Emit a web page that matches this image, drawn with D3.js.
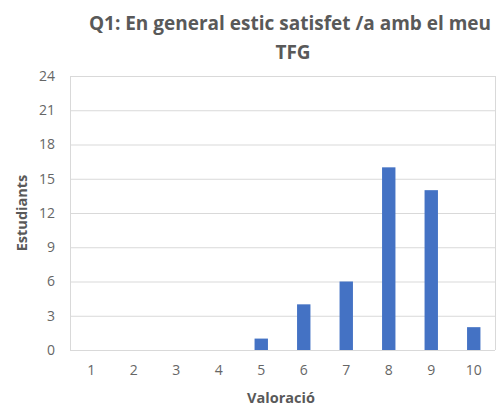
<!DOCTYPE html>
<html><head><meta charset="utf-8">
<script src="https://cdn.jsdelivr.net/npm/d3@7"></script>
<style>body{margin:0;background:#fff}svg{display:block}</style>
</head><body><svg id="c" width="502" height="410"></svg>
<script>
const categories = ["1","2","3","4","5","6","7","8","9","10"];
const values = [0,0,0,0,1,4,6,16,14,2];
const yTicks = [0,3,6,9,12,15,18,21,24];
const titleLines = ["Q1: En general estic satisfet /a amb el meu","TFG"];
const xTitle = "Valoració", yTitle = "Estudiants";

const svg = d3.select("#c");
const m = {l:70, r:495, t:76, b:350};
const font = "'Open Sans', sans-serif";
const x = d3.scaleBand().domain(categories).range([m.l, m.r]).padding(0);
const y = d3.scaleLinear().domain([0,24]).range([m.b, m.t]);
const bw = x.bandwidth()*0.315;

// gridlines
svg.append("g").selectAll("line").data(yTicks).join("line")
  .attr("x1", m.l).attr("x2", m.r).attr("y1", d=>y(d)+0.5).attr("y2", d=>y(d)+0.5)
  .attr("stroke", "#d9d9d9").attr("stroke-width", 1);
// plot borders
svg.append("line").attr("x1", m.l+0.5).attr("x2", m.l+0.5).attr("y1", m.t).attr("y2", m.b)
  .attr("stroke", "#d9d9d9");
svg.append("line").attr("x1", m.r+0.5).attr("x2", m.r+0.5).attr("y1", m.t).attr("y2", m.b)
  .attr("stroke", "#d9d9d9");

// bars
svg.append("g").selectAll("rect").data(values).join("rect")
  .attr("x", (d,i)=>x(categories[i]) + x.bandwidth()/2 - bw/2)
  .attr("width", bw)
  .attr("y", d=>y(d)).attr("height", d=>y(0)-y(d))
  .attr("fill", "#4472c4");

// y axis labels
const ya = svg.append("g").attr("transform", `translate(${m.l},0)`)
  .call(d3.axisLeft(y).tickValues(yTicks).tickSize(0).tickPadding(15));
ya.select(".domain").remove();
ya.selectAll("text").attr("font-family", font).attr("font-size", 14).attr("fill", "#666");

// x axis labels
const xa = svg.append("g").attr("transform", `translate(0,${m.b})`)
  .call(d3.axisBottom(x).tickSize(0).tickPadding(15));
xa.select(".domain").remove();
xa.selectAll("text").attr("font-family", font).attr("font-size", 14).attr("fill", "#666");

// titles
svg.append("text").attr("x", 290).attr("y", 30).attr("text-anchor","middle")
  .attr("font-family", font).attr("font-weight", "bold").attr("font-size", 19).attr("fill", "#595959")
  .text(titleLines[0]);
svg.append("text").attr("x", 293).attr("y", 59).attr("text-anchor","middle")
  .attr("font-family", font).attr("font-weight", "bold").attr("font-size", 19).attr("fill", "#595959")
  .text(titleLines[1]);
svg.append("text").attr("x", 281).attr("y", 403).attr("text-anchor","middle")
  .attr("font-family", font).attr("font-weight", "bold").attr("font-size", 14.5).attr("fill", "#595959")
  .text(xTitle);
svg.append("text").attr("transform", "translate(27,213) rotate(-90)").attr("text-anchor","middle")
  .attr("font-family", font).attr("font-weight", "bold").attr("font-size", 14.5).attr("fill", "#595959")
  .text(yTitle);
</script></body></html>
